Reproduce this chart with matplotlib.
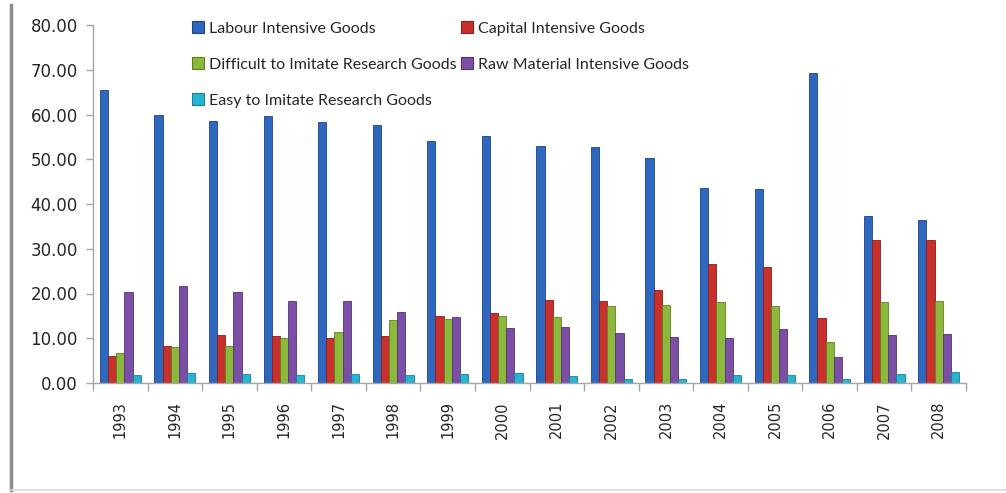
import numpy as np
import matplotlib
matplotlib.use("Agg")
import matplotlib.pyplot as plt
from matplotlib.patches import Patch
from matplotlib.lines import Line2D

years = ["1993", "1994", "1995", "1996", "1997", "1998", "1999", "2000",
         "2001", "2002", "2003", "2004", "2005", "2006", "2007", "2008"]
labour = [65.5, 59.8, 58.6, 59.6, 58.4, 57.7, 54.1, 55.2, 53.0, 52.7, 50.2, 43.6, 43.3, 69.2, 37.3, 36.5]
capital = [6.1, 8.3, 10.7, 10.5, 10.1, 10.6, 15.0, 15.6, 18.5, 18.3, 20.8, 26.5, 26.0, 14.5, 32.0, 32.0]
difficult = [6.8, 8.0, 8.3, 10.0, 11.4, 14.1, 14.3, 15.0, 14.7, 17.1, 17.5, 18.0, 17.2, 9.2, 18.2, 18.4]
raw = [20.3, 21.7, 20.3, 18.3, 18.3, 15.9, 14.7, 12.2, 12.6, 11.1, 10.3, 10.1, 12.0, 5.8, 10.8, 11.0]
easy = [1.7, 2.2, 2.0, 1.7, 1.9, 1.7, 1.9, 2.2, 1.5, 1.0, 1.0, 1.7, 1.7, 0.9, 1.9, 2.4]

series = [
    ("Labour Intensive Goods", labour, "#2D68BE", "#1C4585"),
    ("Capital Intensive Goods", capital, "#C8302C", "#8C1E1B"),
    ("Difficult to Imitate Research Goods", difficult, "#8CB83C", "#5E7F24"),
    ("Raw Material Intensive Goods", raw, "#7B4FA5", "#553472"),
    ("Easy to Imitate Research Goods", easy, "#27B4D3", "#17809A"),
]

fig = plt.figure(figsize=(10.06, 4.93), dpi=100)
ax = fig.add_axes([93 / 1006, 110 / 493, (966 - 93) / 1006, (383 - 25) / 493])

x = np.arange(len(years))
w = 0.15
handles = []
for i, (name, vals, fc, ec) in enumerate(series):
    ax.bar(x + (i - 2) * w, vals, width=w, color=fc, edgecolor=ec, linewidth=0.6, zorder=2)
    handles.append(Patch(facecolor=fc, edgecolor=ec, linewidth=0.8, label=name))

ax.set_xlim(-0.5, len(years) - 0.5)
ax.set_ylim(0, 80)
ax.set_yticks(np.arange(0, 81, 10))
ax.set_yticklabels([f"{v:.2f}" for v in np.arange(0, 81, 10)],
                   fontsize=12, family="DejaVu Sans", color="#262626")
ax.set_xticks(x)
ax.set_xticklabels(years, rotation=90, fontsize=10.5, family="DejaVu Sans", color="#262626")
ax.set_xticks(np.arange(-0.5, len(years)), minor=True)
ax.tick_params(axis="x", which="major", length=0, pad=13)
ax.tick_params(axis="x", which="minor", length=6, color="#A6A6A6", width=1)
ax.tick_params(axis="y", which="major", length=5, color="#A6A6A6", width=1, pad=6)

for s in ["top", "right"]:
    ax.spines[s].set_visible(False)
for s in ["left", "bottom"]:
    ax.spines[s].set_color("#A6A6A6")
    ax.spines[s].set_linewidth(1)

order = [0, 2, 4, 1, 3]
fig.legend([handles[k] for k in order], [series[k][0] for k in order],
           loc="upper left", bbox_to_anchor=(186 / 1006, 1 - 15 / 493),
           ncol=2, frameon=False, prop={"family": "Lato", "size": 11.5},
           handlelength=0.75, handleheight=0.75, handletextpad=0.3,
           columnspacing=0.25, labelspacing=1.35, borderaxespad=0,
           labelcolor="#262626")

# outer chart-area borders
fig.add_artist(Line2D([11 / 1006, 11 / 1006], [3 / 493, 1 - 5 / 493],
                      transform=fig.transFigure, color="#8C8C8C", linewidth=2.5))
fig.add_artist(Line2D([11 / 1006, 1.0], [3 / 493, 3 / 493],
                      transform=fig.transFigure, color="#D9D9D9", linewidth=1.2))

fig.savefig("out.png", dpi=100)
